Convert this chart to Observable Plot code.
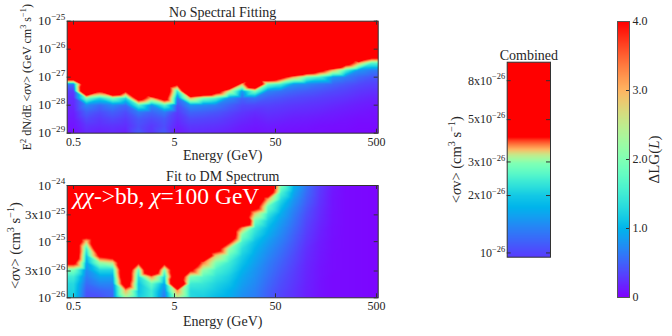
<!DOCTYPE html>
<html>
<head>
<meta charset="utf-8">
<script src="https://cdn.jsdelivr.net/npm/d3@7"></script>
<script src="https://cdn.jsdelivr.net/npm/@observablehq/plot@0.6"></script>
<style>
  html, body { margin: 0; padding: 0; background: #fff; }
  #chart { position: relative; width: 672px; height: 336px; overflow: hidden; background: #fff; }
  #chart svg { position: absolute; }
  #chart svg text, #chart svg tspan { font-family: "Liberation Serif", serif; font-weight: normal; }
</style>
</head>
<body>
<div id="chart"></div>
<script>
// ---------------- DATA ----------------
// energy bin centres (GeV), shared by both panels
const energyBins = [0.50, 0.67, 0.91, 1.22, 1.64, 2.20, 2.95, 3.97, 5.33, 7.17, 9.63, 12.9,
                    17.4, 23.4, 31.4, 42.2, 56.7, 76.2, 102, 138, 185, 248, 334, 448];
const energyRange = [0.433, 520];

// top panel: E^2 dN/dE <sigma v> levels (rows, top to bottom)
const sigmaTop = [1e-25, 5.62e-26, 3.16e-26, 1.78e-26, 1e-26, 5.62e-27, 3.16e-27, 1.78e-27, 1e-27,
                  5.62e-28, 3.16e-28, 1.78e-28, 1e-28, 5.62e-29, 3.16e-29, 1.78e-29, 1e-29];
// Delta LG, one row per sigmaTop level, one column per energy bin
const dlgTop = [
  [6,6,6,6, 6,6,6,6, 6,6,6,6, 6,6,6,6, 6,6,6,6, 6,6,6,6],
  [6,6,6,6, 6,6,6,6, 6,6,6,6, 6,6,6,6, 6,6,6,6, 6,6,6,6],
  [6,6,6,6, 6,6,6,6, 6,6,6,6, 6,6,6,6, 6,6,6,6, 6,6,6,6],
  [6,6,6,6, 6,6,6,6, 6,6,6,6, 6,6,6,6, 6,6,6,6, 6,6,6,6],
  [6,6,6,6, 6,6,6,6, 6,6,6,6, 6,6,6,6, 6,6,6,6, 6,6,6,6],
  [6,6,6,6, 6,6,6,6, 6,6,6,6, 6,6,6,6, 6,6,6,6, 6,6,8,5],
  [6,6,6,6, 6,6,6,6, 6,6,6,6, 6,6,6,6, 6,6,6,6, 8,5,3,1.65],
  [6,6,6,6, 6,6,6,6, 6,6,6,6, 6,6,6,6, 6,8,6.1,4.6, 3,1.65,0.8,0.65],
  [6.3,6,6,6, 6,6,6,6, 6,6,6,6, 6,8,6,6.1, 4.6,3.0,1.9,1.53, 0.8,0.65,0.52,0.44],
  [0.6,6,6,6, 6,6,6,6, 4.3,6,6,6, 7.5,3.0,7,1.9, 1.53,0.8,0.7,0.6, 0.52,0.44,0.37,0.33],
  [0.3,7,4.2,7, 4.2,6,8,6, 1.4,8,7,5, 2.5,0.8,2.0,0.7, 0.6,0.52,0.47,0.42, 0.37,0.33,0.28,0.25],
  [0.23,2.0,1.3,2.0, 1.3,5,3,5, 0.6,3,2,1.65, 0.76,0.52,0.6,0.47, 0.42,0.37,0.34,0.31, 0.28,0.25,0.21,0.18],
  [0.2,0.72,0.55,0.72, 0.55,1.65,0.78,1.65, 0.4,0.78,0.72,0.64, 0.5,0.37,0.36,0.34, 0.31,0.28,0.26,0.24, 0.21,0.18,0.15,0.13],
  [0.16,0.49,0.39,0.49, 0.39,0.65,0.52,0.65, 0.3,0.52,0.49,0.44, 0.36,0.28,0.23,0.26, 0.24,0.21,0.2,0.18, 0.15,0.13,0.11,0.09],
  [0.13,0.36,0.29,0.36, 0.29,0.45,0.37,0.45, 0.23,0.37,0.35,0.33, 0.27,0.21,0.16,0.2, 0.18,0.15,0.14,0.12, 0.11,0.09,0.07,0.07],
  [0.1,0.26,0.23,0.26, 0.23,0.4,0.29,0.4, 0.17,0.28,0.27,0.25, 0.21,0.15,0.12,0.14, 0.12,0.11,0.1,0.08, 0.07,0.07,0.05,0.05],
  [0.07,0.2,0.16,0.2, 0.16,0.45,0.26,0.45, 0.12,0.21,0.2,0.18, 0.15,0.11,0.08,0.1, 0.08,0.07,0.07,0.07, 0.05,0.05,0.04,0.03]
];

// bottom panel: <sigma v> levels (rows, top to bottom)
const sigmaBottom = [1e-24, 7.50e-25, 5.62e-25, 4.22e-25, 3.16e-25, 2.37e-25, 1.78e-25, 1.33e-25, 1e-25,
                     7.50e-26, 5.62e-26, 4.22e-26, 3.16e-26, 2.37e-26, 1.78e-26, 1.33e-26, 1e-26];
const dlgBottom = [
  [6,6,6,6, 6,6,6,6, 6,6,6,6, 6,6,6,6, 2.0,1.0,0.6,0.3, 0.12,0.05,0.04,0.03],
  [6,6,6,6, 6,6,6,6, 6,6,6,6, 6,6,6,5.5, 1.6,0.9,0.55,0.28, 0.11,0.05,0.04,0.03],
  [6,6,6,6, 6,6,6,6, 6,6,6,6, 6,6,6,3.0, 1.3,0.8,0.5,0.26, 0.1,0.05,0.04,0.03],
  [6,6,6,6, 6,6,6,6, 6,6,6,6, 6,6,4.9,1.8, 1.1,0.72,0.45,0.24, 0.1,0.05,0.04,0.03],
  [6,6,6,6, 6,6,6,6, 6,6,6,6, 6,6,2.8,1.45, 0.95,0.65,0.4,0.22, 0.09,0.05,0.04,0.03],
  [6,6,6,6, 6,6,6,6, 6,6,6,6, 6,7.7,1.9,1.2, 0.85,0.6,0.36,0.2, 0.09,0.05,0.04,0.03],
  [6,6,6,6, 6,6,6,6, 6,6,6,6, 6,3.3,1.5,1.05, 0.78,0.55,0.33,0.18, 0.08,0.05,0.04,0.03],
  [6,5,6,6, 6,6,6,6, 6,6,6,6, 6,2.0,1.3,0.95, 0.72,0.5,0.3,0.16, 0.08,0.05,0.04,0.03],
  [6,2.8,6,6, 6,6,6,6, 6,6,6,6, 4.34,1.6,1.1,0.85, 0.66,0.46,0.27,0.14, 0.07,0.05,0.04,0.03],
  [6,1.5,6,6, 6,6,6,6, 6,6,6,4.94, 2.2,1.35,1.0,0.78, 0.6,0.42,0.24,0.13, 0.07,0.05,0.04,0.03],
  [6,1.1,4.34,4.93, 6,6,6,6, 6,6,6.4,2.8, 1.8,1.2,0.92,0.72, 0.55,0.38,0.22,0.12, 0.06,0.05,0.04,0.03],
  [4.5,0.9,2.2,2.6, 6,4.2,6,4.5, 6,6,3.4,2.0, 1.5,1.1,0.86,0.66, 0.5,0.35,0.2,0.11, 0.06,0.05,0.04,0.03],
  [2.0,0.75,1.3,1.3, 6,1.8,6.8,2.0, 6,4.38,2.2,1.6, 1.35,1.0,0.8,0.62, 0.46,0.32,0.19,0.1, 0.06,0.05,0.04,0.03],
  [1.5,0.65,0.9,0.9, 6,1.3,3.3,1.2, 6,2.0,1.7,1.4, 1.2,0.92,0.76,0.58, 0.42,0.3,0.18,0.1, 0.05,0.05,0.04,0.03],
  [1.3,0.55,0.7,0.7, 5.3,1.1,1.8,0.9, 7.2,1.5,1.45,1.25, 1.1,0.86,0.72,0.54, 0.39,0.28,0.17,0.09, 0.05,0.05,0.04,0.03],
  [1.25,0.45,0.5,0.55, 3.0,1.1,1.5,0.7, 3.2,1.3,1.3,1.15, 1.0,0.8,0.68,0.5, 0.36,0.26,0.16,0.09, 0.05,0.05,0.04,0.03],
  [1.2,0.4,0.4,0.5, 2.2,1.2,1.5,0.6, 2.4,1.3,1.2,1.05, 0.95,0.75,0.65,0.48, 0.34,0.25,0.15,0.08, 0.05,0.05,0.04,0.03]
];

// combined panel: Delta LG along <sigma v>
const combinedSigma = [0.95e-26, 1.0e-26, 1.37e-26, 1.74e-26, 2.0e-26, 2.4e-26, 2.95e-26, 3.25e-26, 3.6e-26, 3.9e-26, 4.15e-26, 5e-26, 1e-25];
const combinedDLG   = [0.3, 0.35, 0.7, 1.0, 1.15, 1.5, 2.0, 2.5, 3.2, 3.7, 4.2, 6, 20];

// ticks & labels
const energyTicks = [0.5, 5, 50, 500];
const energyLabels = ["0.5", "5", "50", "500"];
const topYTicks = [1e-29, 1e-28, 1e-27, 1e-26, 1e-25];
const topYLabels = ["10^{−29}", "10^{−28}", "10^{−27}", "10^{−26}", "10^{−25}"];
const botYTicks = [1e-26, 3e-26, 1e-25, 3e-25, 1e-24];
const botYLabels = ["10^{−26}", "3x10^{−26}", "10^{−25}", "3x10^{−25}", "10^{−24}"];
const combYTicks = [1e-26, 2e-26, 3e-26, 5e-26, 8e-26];
const combYLabels = ["10^{−26}", "2x10^{−26}", "3x10^{−26}", "5x10^{−26}", "8x10^{−26}"];
const cbTicks = [0, 1, 2, 3, 4];
const cbLabels = ["0", "1.0", "2.0", "3.0", "4.0"];

// ---------------- STYLE ----------------
const INK = "#262626";
const EDGE = "#333";
const FONT = "Liberation Serif";
const STYLE = 'font-family: "Liberation Serif", serif; font-size: 12px; color: #262626; background: none; overflow: visible;';

// matplotlib "rainbow" colormap
function rainbow(t) {
  t = Math.max(0, Math.min(1, t));
  const r = Math.min(1, Math.abs(2 * t - 0.5));
  const g = Math.sin(Math.PI * t);
  const b = Math.cos(Math.PI * t / 2);
  return `rgb(${Math.round(r * 255)},${Math.round(g * 255)},${Math.round(b * 255)})`;
}
const colorOpts = {type: "linear", domain: [0, 4], interpolate: rainbow, clamp: true};

// grid -> sample points; the first/last columns are repeated at the frame edges
function cells(sig, es, grid) {
  const xs = [energyRange[0], ...es, energyRange[1]];
  return sig.flatMap((s, i) => {
    const row = [grid[i][0], ...grid[i], grid[i][grid[i].length - 1]];
    return xs.map((e, j) => ({e, s, v: row[j]}));
  });
}
function inTicks(xt, yt, fw, fh, len = 4) {
  return [
    Plot.ruleX(xt, {x: d => d, insetTop: fh - len, stroke: EDGE}),
    Plot.ruleX(xt, {x: d => d, insetBottom: fh - len, stroke: EDGE}),
    Plot.ruleY(yt, {y: d => d, insetRight: fw - len, stroke: EDGE}),
    Plot.ruleY(yt, {y: d => d, insetLeft: fw - len, stroke: EDGE})
  ];
}
const T = (data, opts) => Plot.text(data, {fontFamily: FONT, fontWeight: "normal", fill: INK, ...opts});
const txt = d => d;
function xTickLabels() {
  return T(energyTicks, {x: d => d, text: (d, i) => energyLabels[i], frameAnchor: "bottom", lineAnchor: "top", dy: 4, fontSize: 12});
}
function yTickLabels(ticks, labels, fs = 13) {
  return T(ticks, {y: d => d, text: (d, i) => labels[i], frameAnchor: "left", textAnchor: "end", dx: -2, fontSize: fs});
}

// ---------------- PANEL 1: No Spectral Fitting ----------------
const p1 = Plot.plot({
  width: 390, height: 165,
  marginLeft: 66.7, marginRight: 12.3, marginTop: 20.67, marginBottom: 32.33,
  style: STYLE,
  x: {type: "log", domain: energyRange, axis: null},
  y: {type: "log", domain: [1e-29, 1e-25], axis: null},
  color: colorOpts,
  marks: [
    Plot.raster(cells(sigmaTop, energyBins, dlgTop), {x: "e", y: "s", fill: "v", interpolate: "barycentric"}),
    ...inTicks(energyTicks, topYTicks, 311, 112),
    Plot.frame({stroke: EDGE}),
    xTickLabels(),
    yTickLabels(topYTicks, topYLabels),
    T(["No Spectral Fitting"], {text: txt, frameAnchor: "top", lineAnchor: "bottom", dy: -3.7, fontSize: 14}),
    T(["Energy (GeV)"], {text: txt, frameAnchor: "bottom", lineAnchor: "bottom", dy: 27.3, fontSize: 14}),
    T(["E^{2} dN/dE <~{σ}v> (GeV cm^{3} s^{−1})"], {text: txt, frameAnchor: "left", textAnchor: "middle", dx: -39.7, rotate: -90, fontSize: 12})
  ]
});

// ---------------- PANEL 2: Fit to DM Spectrum ----------------
const p2 = Plot.plot({
  width: 390, height: 171,
  marginLeft: 66.7, marginRight: 12.3, marginTop: 20, marginBottom: 38.7,
  style: STYLE,
  x: {type: "log", domain: energyRange, axis: null},
  y: {type: "log", domain: [1e-26, 1e-24], axis: null},
  color: colorOpts,
  marks: [
    Plot.raster(cells(sigmaBottom, energyBins, dlgBottom), {x: "e", y: "s", fill: "v", interpolate: "barycentric"}),
    ...inTicks(energyTicks, botYTicks, 311, 112.3),
    Plot.frame({stroke: EDGE}),
    xTickLabels(),
    yTickLabels(botYTicks, botYLabels),
    T(["~{χχ}->bb, ~{χ}=100 GeV"], {text: txt, frameAnchor: "top-left", textAnchor: "start", lineAnchor: "top", dx: 6, dy: 1.5, fontSize: 23.5, fill: "white"}),
    T(["Fit to DM Spectrum"], {text: txt, frameAnchor: "top", lineAnchor: "bottom", dy: -4.5, fontSize: 14}),
    T(["Energy (GeV)"], {text: txt, frameAnchor: "bottom", lineAnchor: "bottom", dy: 27.7, fontSize: 14}),
    T(["<~{σ}v> (cm^{3} s^{−1})"], {text: txt, frameAnchor: "left", textAnchor: "middle", dx: -51.7, dy: 4, rotate: -90, fontSize: 14.5})
  ]
});

// ---------------- PANEL 3: Combined ----------------
const combinedCells = [0, 1].flatMap(x => combinedSigma.map((s, i) => ({x, s, v: combinedDLG[i]})));
const p3 = Plot.plot({
  width: 130, height: 240,
  marginLeft: 66.7, marginRight: 20, marginTop: 31.7, marginBottom: 13.3,
  style: STYLE,
  x: {domain: [0, 1], axis: null},
  y: {type: "log", domain: [0.95e-26, 1e-25], axis: null},
  color: colorOpts,
  marks: [
    Plot.raster(combinedCells, {x: "x", y: "s", fill: "v", interpolate: "barycentric"}),
    Plot.ruleY(combYTicks, {y: d => d, insetRight: 43.3 - 4, stroke: EDGE}),
    Plot.ruleY(combYTicks, {y: d => d, insetLeft: 43.3 - 4, stroke: EDGE}),
    Plot.frame({stroke: EDGE}),
    yTickLabels(combYTicks, combYLabels, 12),
    T(["Combined"], {text: txt, frameAnchor: "top", lineAnchor: "bottom", dy: -2, fontSize: 14}),
    T(["<~{σ}v> (cm^{3} s^{−1})"], {text: txt, frameAnchor: "left", textAnchor: "middle", dx: -50.7, rotate: -90, fontSize: 14.5})
  ]
});

// ---------------- PANEL 4: colour bar ----------------
const p4 = Plot.plot({
  width: 92, height: 336,
  marginLeft: 37, marginRight: 43, marginTop: 21, marginBottom: 39,
  style: STYLE,
  x: {domain: [0, 1], axis: null},
  y: {domain: [0, 4], axis: null},
  color: colorOpts,
  marks: [
    Plot.raster({fill: (x, y) => y, x1: 0, x2: 1, y1: 0, y2: 4}),
    Plot.ruleY(cbTicks, {y: d => d, insetLeft: 12 - 3, stroke: EDGE}),
    Plot.frame({stroke: "#555"}),
    T(cbTicks, {y: d => d, text: (d, i) => cbLabels[i], frameAnchor: "right", textAnchor: "start", dx: 3, fontSize: 12}),
    T(["ΔLG(~{L})"], {text: txt, frameAnchor: "right", textAnchor: "middle", dx: 25, rotate: -90, fontSize: 15})
  ]
});

// ---------------- LAYOUT ----------------
const chart = document.getElementById("chart");
function place(svg, left, top) {
  svg.style.left = left + "px";
  svg.style.top = top + "px";
  svg.setAttribute("font-family", '"Liberation Serif", serif');
  chart.appendChild(svg);
  richify(svg);
}

// turn "^{..}" into superscripts and "~{..}" into italics
function richify(svg) {
  svg.querySelectorAll("text").forEach(t => {
    const s = t.textContent;
    if (!/[\^~]\{/.test(s)) return;
    const fs = parseFloat(getComputedStyle(t).fontSize) || 12;
    while (t.firstChild) t.removeChild(t.firstChild);
    const parts = s.split(/(\^\{[^}]*\}|~\{[^}]*\})/).filter(p => p.length);
    let pending = 0;
    const NS = "http://www.w3.org/2000/svg";
    for (const p of parts) {
      const ts = document.createElementNS(NS, "tspan");
      if (p.startsWith("^{")) {
        ts.textContent = p.slice(2, -1);
        ts.setAttribute("font-size", (fs * 0.7).toFixed(2));
        ts.setAttribute("dy", (-fs * 0.42).toFixed(2));
        pending = fs * 0.42;
      } else {
        if (p.startsWith("~{")) {
          ts.textContent = p.slice(2, -1);
          ts.setAttribute("font-style", "italic");
        } else {
          ts.textContent = p;
        }
        if (pending) { ts.setAttribute("dy", pending.toFixed(2)); pending = 0; }
      }
      t.appendChild(ts);
    }
  });
}

place(p1, 0, 0);
place(p2, 0, 165);
place(p3, 440, 30);
place(p4, 580, 0);
</script>
</body>
</html>
